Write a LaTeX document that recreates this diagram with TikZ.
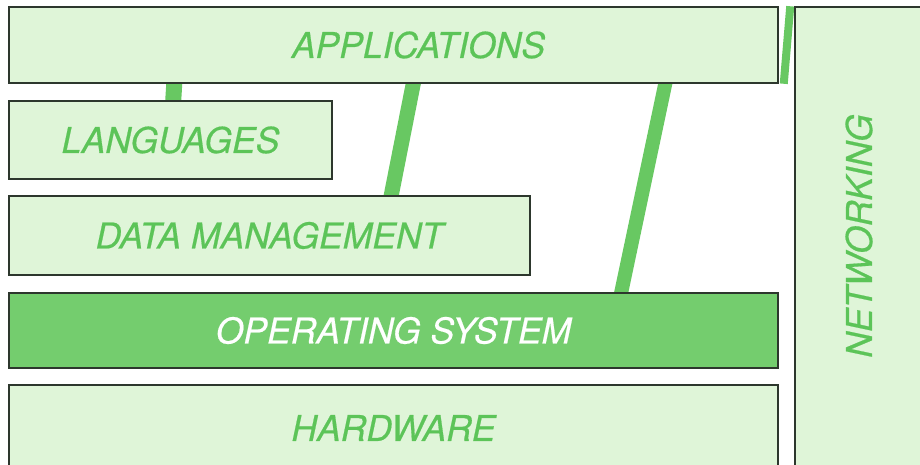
\documentclass[tikz,border=0pt]{standalone}
\usepackage{fontspec}
\setmainfont{TeX Gyre Heros}
\newfontfamily\layerfont[FakeBold=0.5]{TeX Gyre Heros}
\usetikzlibrary{positioning}
\definecolor{palegreen}{RGB}{223,245,216}
\definecolor{midgreen}{RGB}{116,205,110}
\definecolor{textgreen}{RGB}{92,196,88}
\definecolor{bargreen}{RGB}{104,200,98}
\definecolor{edgegray}{RGB}{45,55,45}
\pgfdeclarelayer{background}
\pgfsetlayers{background,main}

\begin{document}
\begin{tikzpicture}[x=1pt,y=-1pt,
  layerbox/.style={draw=edgegray,line width=1.5pt,fill=palegreen,text=textgreen,
    inner sep=0pt,font=\layerfont\fontsize{35.5}{40}\selectfont\itshape},
  link/.style={draw=bargreen,line width=#1}]

\useasboundingbox (0,0) rectangle (920,464);
\clip (0,0) rectangle (920,464);

% layers
\node[layerbox,minimum width=769pt,minimum height=76pt] (app) at (393.5,45) {\hspace*{50pt}APPLICATIONS};
\node[layerbox,minimum width=323pt,minimum height=78pt] (lang) at (170.5,140) {LANGUAGES};
\node[layerbox,minimum width=521pt,minimum height=79pt] (data) at (269.5,235.5) {DATA MANAGEMENT};
\node[layerbox,minimum width=769pt,minimum height=75pt,fill=midgreen,text=white] (os) at (393.5,330.5) {OPERATING SYSTEM};
\node[layerbox,minimum width=769pt,minimum height=115pt,text depth=29pt] (hw) at (393.5,442.5) {HARDWARE};

% networking column
\node[layerbox,minimum width=128pt,minimum height=493pt] (net) at (859,253.5) {\rotatebox{90}{\hspace*{35pt}NETWORKING}};

% green links
\begin{pgfonlayer}{background}
\draw[link=16pt,shorten <=-3pt,shorten >=-3pt] ([xshift=166pt]app.south west) -- ([xshift=165pt]lang.north west);
\draw[link=15pt,shorten <=-3pt,shorten >=-3pt] ([xshift=405pt]app.south west) -- ([xshift=383pt]data.north west);
\draw[link=14pt,shorten <=-3pt,shorten >=-3pt] ([xshift=657pt]app.south west) -- ([xshift=613pt]os.north west);
\draw[link=8pt] ([xshift=5pt]app.south east) -- ([xshift=-4pt]net.north west);
\end{pgfonlayer}
\end{tikzpicture}
\end{document}
